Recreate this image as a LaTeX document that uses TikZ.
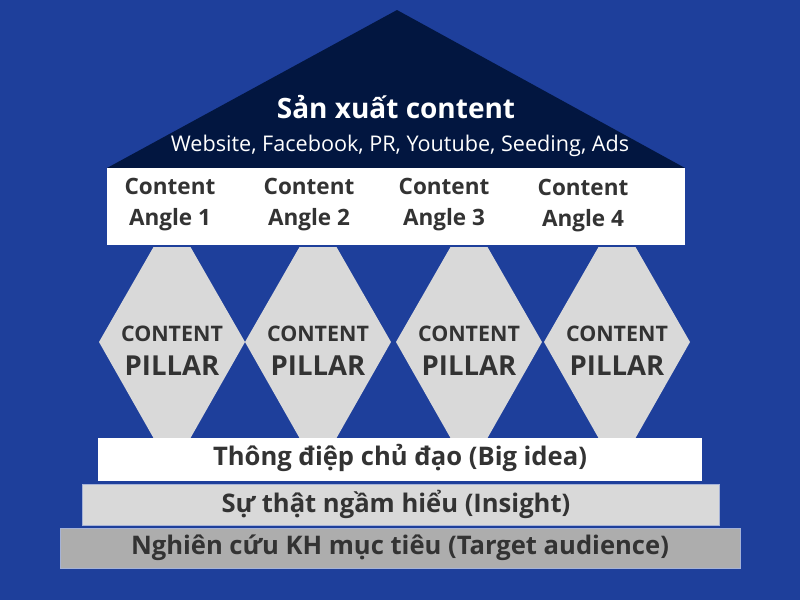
\documentclass[tikz,border=0pt]{standalone}
\usepackage{fontspec}
\setmainfont{Open Sans}

\definecolor{bgblue}{HTML}{1E3F9B}
\definecolor{roofnavy}{HTML}{021640}
\definecolor{pillargray}{HTML}{D9D9D9}
\definecolor{basegray}{HTML}{ADADAD}
\definecolor{textgray}{HTML}{333333}

\tikzset{
  pillartext/.style={text=textgray, align=center},
  bartext/.style={text=textgray, font=\fontsize{25.6}{30}\selectfont\bfseries},
}

\begin{document}
\begin{tikzpicture}[x=1pt,y=-1pt]
    \fill[bgblue] (0,0) rectangle (800,600);
    \useasboundingbox (0,0) rectangle (800,600);
    % roof
    \fill[roofnavy] (107,168) -- (397,10) -- (685,168) -- cycle;
    \node[text=white, font=\fontsize{28}{32}\selectfont\bfseries] (title) at (396,107) {Sản xuất content};
    \node[text=white, font=\fontsize{21.6}{25}\selectfont] (channels) at (400,146) {Website, Facebook, PR, Youtube, Seeding, Ads};
    % angles
    \fill[white] (107,168) rectangle (685,245);
    \foreach \x/\n/\y in {170/1/205,309/2/205,444/3/205,583/4/206}
        \node[pillartext, font=\fontsize{22.5}{31}\selectfont\bfseries] (angle\n) at (\x,\y) {Content\\Angle \n};
    % pillars
    \foreach \x/\n in {172/1,318/2,469/3,617/4} {
        \fill[pillargray] (\x-18.5,247) -- (\x+18.5,247) -- (\x+73,342) -- (\x+18.5,438) -- (\x-18.5,438) -- (\x-73,342) -- cycle;
        \node[pillartext, font=\fontsize{27.5}{34}\selectfont\bfseries] (pillar\n) at (\x,351) {{\fontsize{21.4}{24}\selectfont CONTENT}\\PILLAR};
    }
    % base bars
    \fill[white] (98,438) rectangle (702,481);
    \node[bartext] (bigidea) at (400,458) {Thông điệp chủ đạo (Big idea)};
    \filldraw[pillargray, draw=white!60!bgblue, line width=0.6pt] (82,484) rectangle (719,525);
    \node[bartext] (insight) at (396,504) {Sự thật ngầm hiểu (Insight)};
    \filldraw[basegray, draw=white!60!bgblue, line width=0.6pt] (60,528) rectangle (740,568);
    \node[bartext] (audience) at (400,548) {Nghiên cứu KH mục tiêu (Target audience)};
\end{tikzpicture}
\end{document}
